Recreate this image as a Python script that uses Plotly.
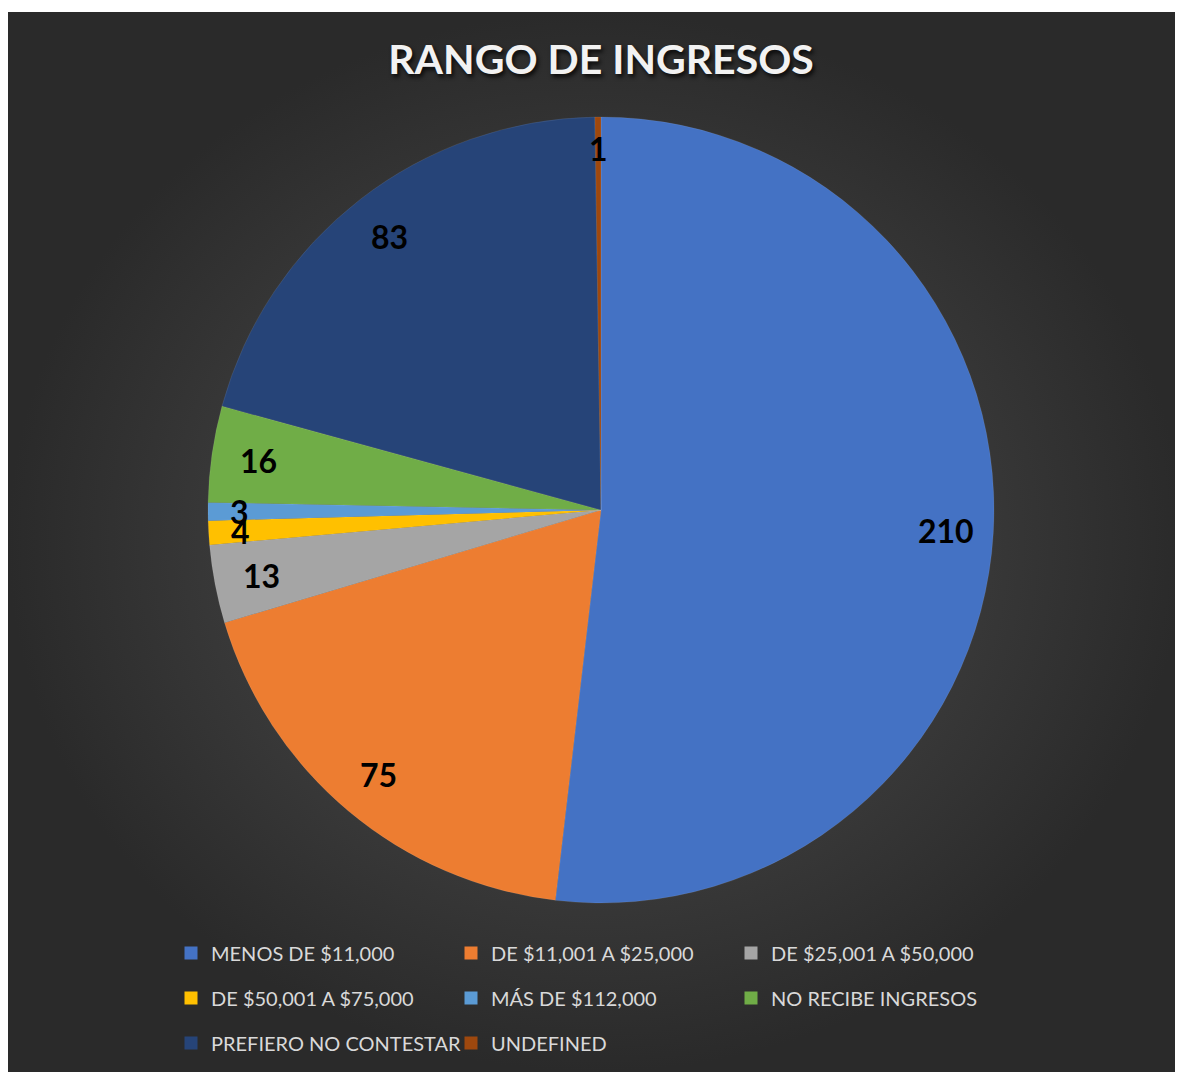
import math
import plotly.graph_objects as go

# income ranges and counts
labels = ["MENOS DE $11,000", "DE $11,001 A $25,000", "DE $25,001 A $50,000",
          "DE $50,001 A $75,000", "MÁS DE $112,000", "NO RECIBE INGRESOS",
          "PREFIERO NO CONTESTAR", "UNDEFINED"]
values = [210, 75, 13, 4, 3, 16, 83, 1]
colors = ["#4472C4", "#ED7D31", "#A5A5A5", "#FFC000", "#5B9BD5", "#70AD47",
          "#264478", "#9E480E"]

OFF = 8                      # page body margin
W, H = 1183 - OFF, 1072 - OFF
cx, cy, R = 601 - OFF, 510 - OFF, 393   # pie centre / radius in px (from top)
FONT = "Lato"

fig = go.Figure()

# dark background with radial gradient
fig.add_trace(go.Scatter(
    x=[0, W, W, 0, 0], y=[0, 0, H - 4, H - 4, 0], mode="lines",
    line=dict(width=0), fill="toself",
    fillgradient=dict(type="radial",
                      colorscale=[[0, "#4b4b4b"], [0.45, "#404040"], [1, "#2a2a2a"]]),
    hoverinfo="skip", showlegend=False))

fig.add_trace(go.Pie(
    labels=labels, values=values, sort=False, direction="clockwise", rotation=0,
    marker=dict(colors=colors, line=dict(width=0.6, color="rgba(255,255,255,0.15)")),
    textinfo="none", showlegend=False,
    domain=dict(x=[(cx - R) / W, (cx + R) / W], y=[1 - (cy + R) / H, 1 - (cy - R) / H])))

# data labels near the outer edge of each slice
total = sum(values)
cum = 0
for v in values:
    mid = (cum + v / 2) / total * 2 * math.pi
    cum += v
    r = R * (0.92 if v < 5 else 0.88)
    fig.add_annotation(x=cx + r * math.sin(mid), y=H - (cy - r * math.cos(mid)),
                       xref="x", yref="y", text=f"<b>{v}</b>", showarrow=False,
                       font=dict(family=FONT, size=32, color="#000000"))

# legend: 3 rows of 3 entries
legend_rows = [labels[0:3], labels[3:6], labels[6:8]]
row_y = [953, 998, 1043]
for i, row in enumerate(legend_rows):
    key = "legend" if i == 0 else f"legend{i + 1}"
    for lab in row:
        fig.add_trace(go.Scatter(
            x=[None], y=[None], mode="markers", name=lab, legend=key,
            marker=dict(symbol="square", size=13, color=colors[labels.index(lab)])))
    fig.update_layout({key: dict(
        orientation="h", x=(190 - OFF - 19) / W, xanchor="left", y=1 - (row_y[i] - OFF) / H,
        yanchor="middle", entrywidth=235, entrywidthmode="pixels",
        bgcolor="rgba(0,0,0,0)", font=dict(family=FONT, size=20, color="#d9d9d9"))})

fig.update_layout(
    width=W, height=H, margin=dict(l=0, r=0, t=0, b=0),
    paper_bgcolor="white", plot_bgcolor="rgba(0,0,0,0)",
    xaxis=dict(range=[0, W], visible=False, fixedrange=True),
    yaxis=dict(range=[0, H], visible=False, fixedrange=True),
    title=dict(text="<b>RANGO DE INGRESOS</b>", x=(601 - OFF) / W, xanchor="center",
               y=1 - (60 - OFF) / H, yanchor="middle",
               font=dict(family=FONT, size=41, color="#f2f2f2",
                         shadow="2px 3px 4px rgba(0,0,0,0.8)")),
)

fig.write_html("out.html")
